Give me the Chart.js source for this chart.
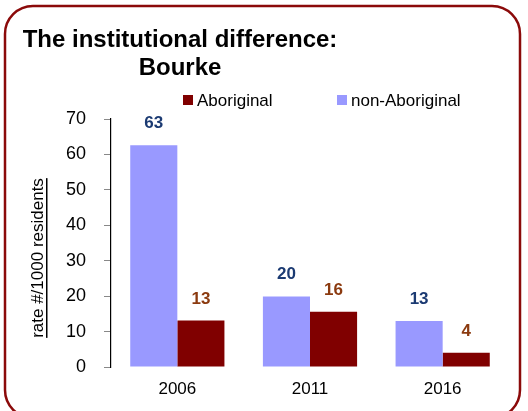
<!DOCTYPE html>
<html>
<head>
<meta charset="utf-8">
<script src="https://cdn.jsdelivr.net/npm/chart.js@4.4.1/dist/chart.umd.min.js"></script>
<style>
  html, body { margin: 0; padding: 0; background: #ffffff; }
  #wrap { width: 528px; height: 411px; position: relative; }
</style>
</head>
<body>
<div id="wrap"><canvas id="rateChart" width="528" height="411"></canvas></div>
<script>
// chart data
const years = ["2006", "2011", "2016"];
const nonAboriginal = [62.6, 19.9, 13];
const aboriginal = [13.1, 15.6, 4];
const yTicks = [0, 10, 20, 30, 40, 50, 60, 70];

const titleLines = ["The institutional difference:", "Bourke"];
const yTitle = "rate #/1000 residents";
const FONT = "'Liberation Sans', Arial, sans-serif";

// frame, title, legend and axis title drawn on the canvas
const decorPlugin = {
  id: "decor",
  beforeDraw(chart) {
    const ctx = chart.ctx;
    ctx.save();
    ctx.strokeStyle = "#8b0a0a";
    ctx.lineWidth = 2.5;
    ctx.beginPath();
    ctx.roundRect(5, 6, 515, 412, 28);
    ctx.stroke();
    ctx.restore();
  },
  afterDraw(chart) {
    const ctx = chart.ctx;
    ctx.save();
    // title
    ctx.fillStyle = "#000000";
    ctx.font = "bold 24px " + FONT;
    ctx.textAlign = "center";
    ctx.textBaseline = "alphabetic";
    ctx.fillText(titleLines[0], 180, 47);
    ctx.fillText(titleLines[1], 180, 75);

    // legend (Aboriginal listed first)
    const items = [
      { label: chart.data.datasets[1].label, color: chart.data.datasets[1].backgroundColor, x: 183 },
      { label: chart.data.datasets[0].label, color: chart.data.datasets[0].backgroundColor, x: 337 },
    ];
    ctx.font = "17px " + FONT;
    ctx.textAlign = "left";
    items.forEach((it) => {
      ctx.fillStyle = it.color;
      ctx.fillRect(it.x, 95, 10, 10);
      ctx.fillStyle = "#000000";
      ctx.fillText(it.label, it.x + 14, 106);
    });

    // y axis title, rotated and underlined
    ctx.translate(43, 258);
    ctx.rotate(-Math.PI / 2);
    ctx.font = "17px " + FONT;
    ctx.textAlign = "center";
    ctx.fillText(yTitle, 0, 0);
    const w = ctx.measureText(yTitle).width;
    ctx.fillRect(-w / 2, 3, w, 1.5);
    ctx.restore();

    // value labels above bars
    ctx.save();
    ctx.font = "bold 17px " + FONT;
    ctx.textAlign = "center";
    const labelColors = ["#1b3a72", "#8b3a0f"];
    chart.data.datasets.forEach((ds, i) => {
      const meta = chart.getDatasetMeta(i);
      ctx.fillStyle = labelColors[i];
      meta.data.forEach((bar, j) => {
        ctx.fillText(String(Math.round(ds.data[j])), bar.x, bar.y - 17);
      });
    });
    ctx.restore();
  },
};

const ctx = document.getElementById("rateChart").getContext("2d");
const rateChart = new Chart(ctx, {
  type: "bar",
  data: {
    labels: years,
    datasets: [
      {
        label: "non-Aboriginal",
        data: nonAboriginal,
        backgroundColor: "#9999ff",
        borderWidth: 0,
      },
      {
        label: "Aboriginal",
        data: aboriginal,
        backgroundColor: "#800000",
        borderWidth: 0,
      },
    ],
  },
  options: {
    responsive: false,
    animation: false,
    layout: { padding: { left: 0, right: 19, top: 119, bottom: 0 } },
    datasets: {
      bar: { categoryPercentage: 0.71, barPercentage: 1.0 },
    },
    plugins: {
      legend: { display: false },
      title: { display: false },
      tooltip: { enabled: false },
    },
    scales: {
      x: {
        grid: { display: false, drawTicks: false },
        border: { display: false },
        ticks: {
          color: "#000000",
          font: { family: FONT, size: 17 },
          padding: 12,
        },
        afterFit(scale) {
          scale.height = 44;
        },
      },
      y: {
        min: 0,
        max: 70,
        afterBuildTicks(scale) {
          scale.ticks = yTicks.map((v) => ({ value: v }));
        },
        grid: {
          drawOnChartArea: false,
          drawTicks: true,
          tickLength: 7,
          color: "#888888",
        },
        border: { display: true, color: "#000000", width: 1.2 },
        ticks: {
          color: "#000000",
          font: { family: FONT, size: 18 },
          padding: 18,
        },
        afterFit(scale) {
          scale.width = 111;
        },
      },
    },
  },
  plugins: [decorPlugin],
});
</script>
</body>
</html>
